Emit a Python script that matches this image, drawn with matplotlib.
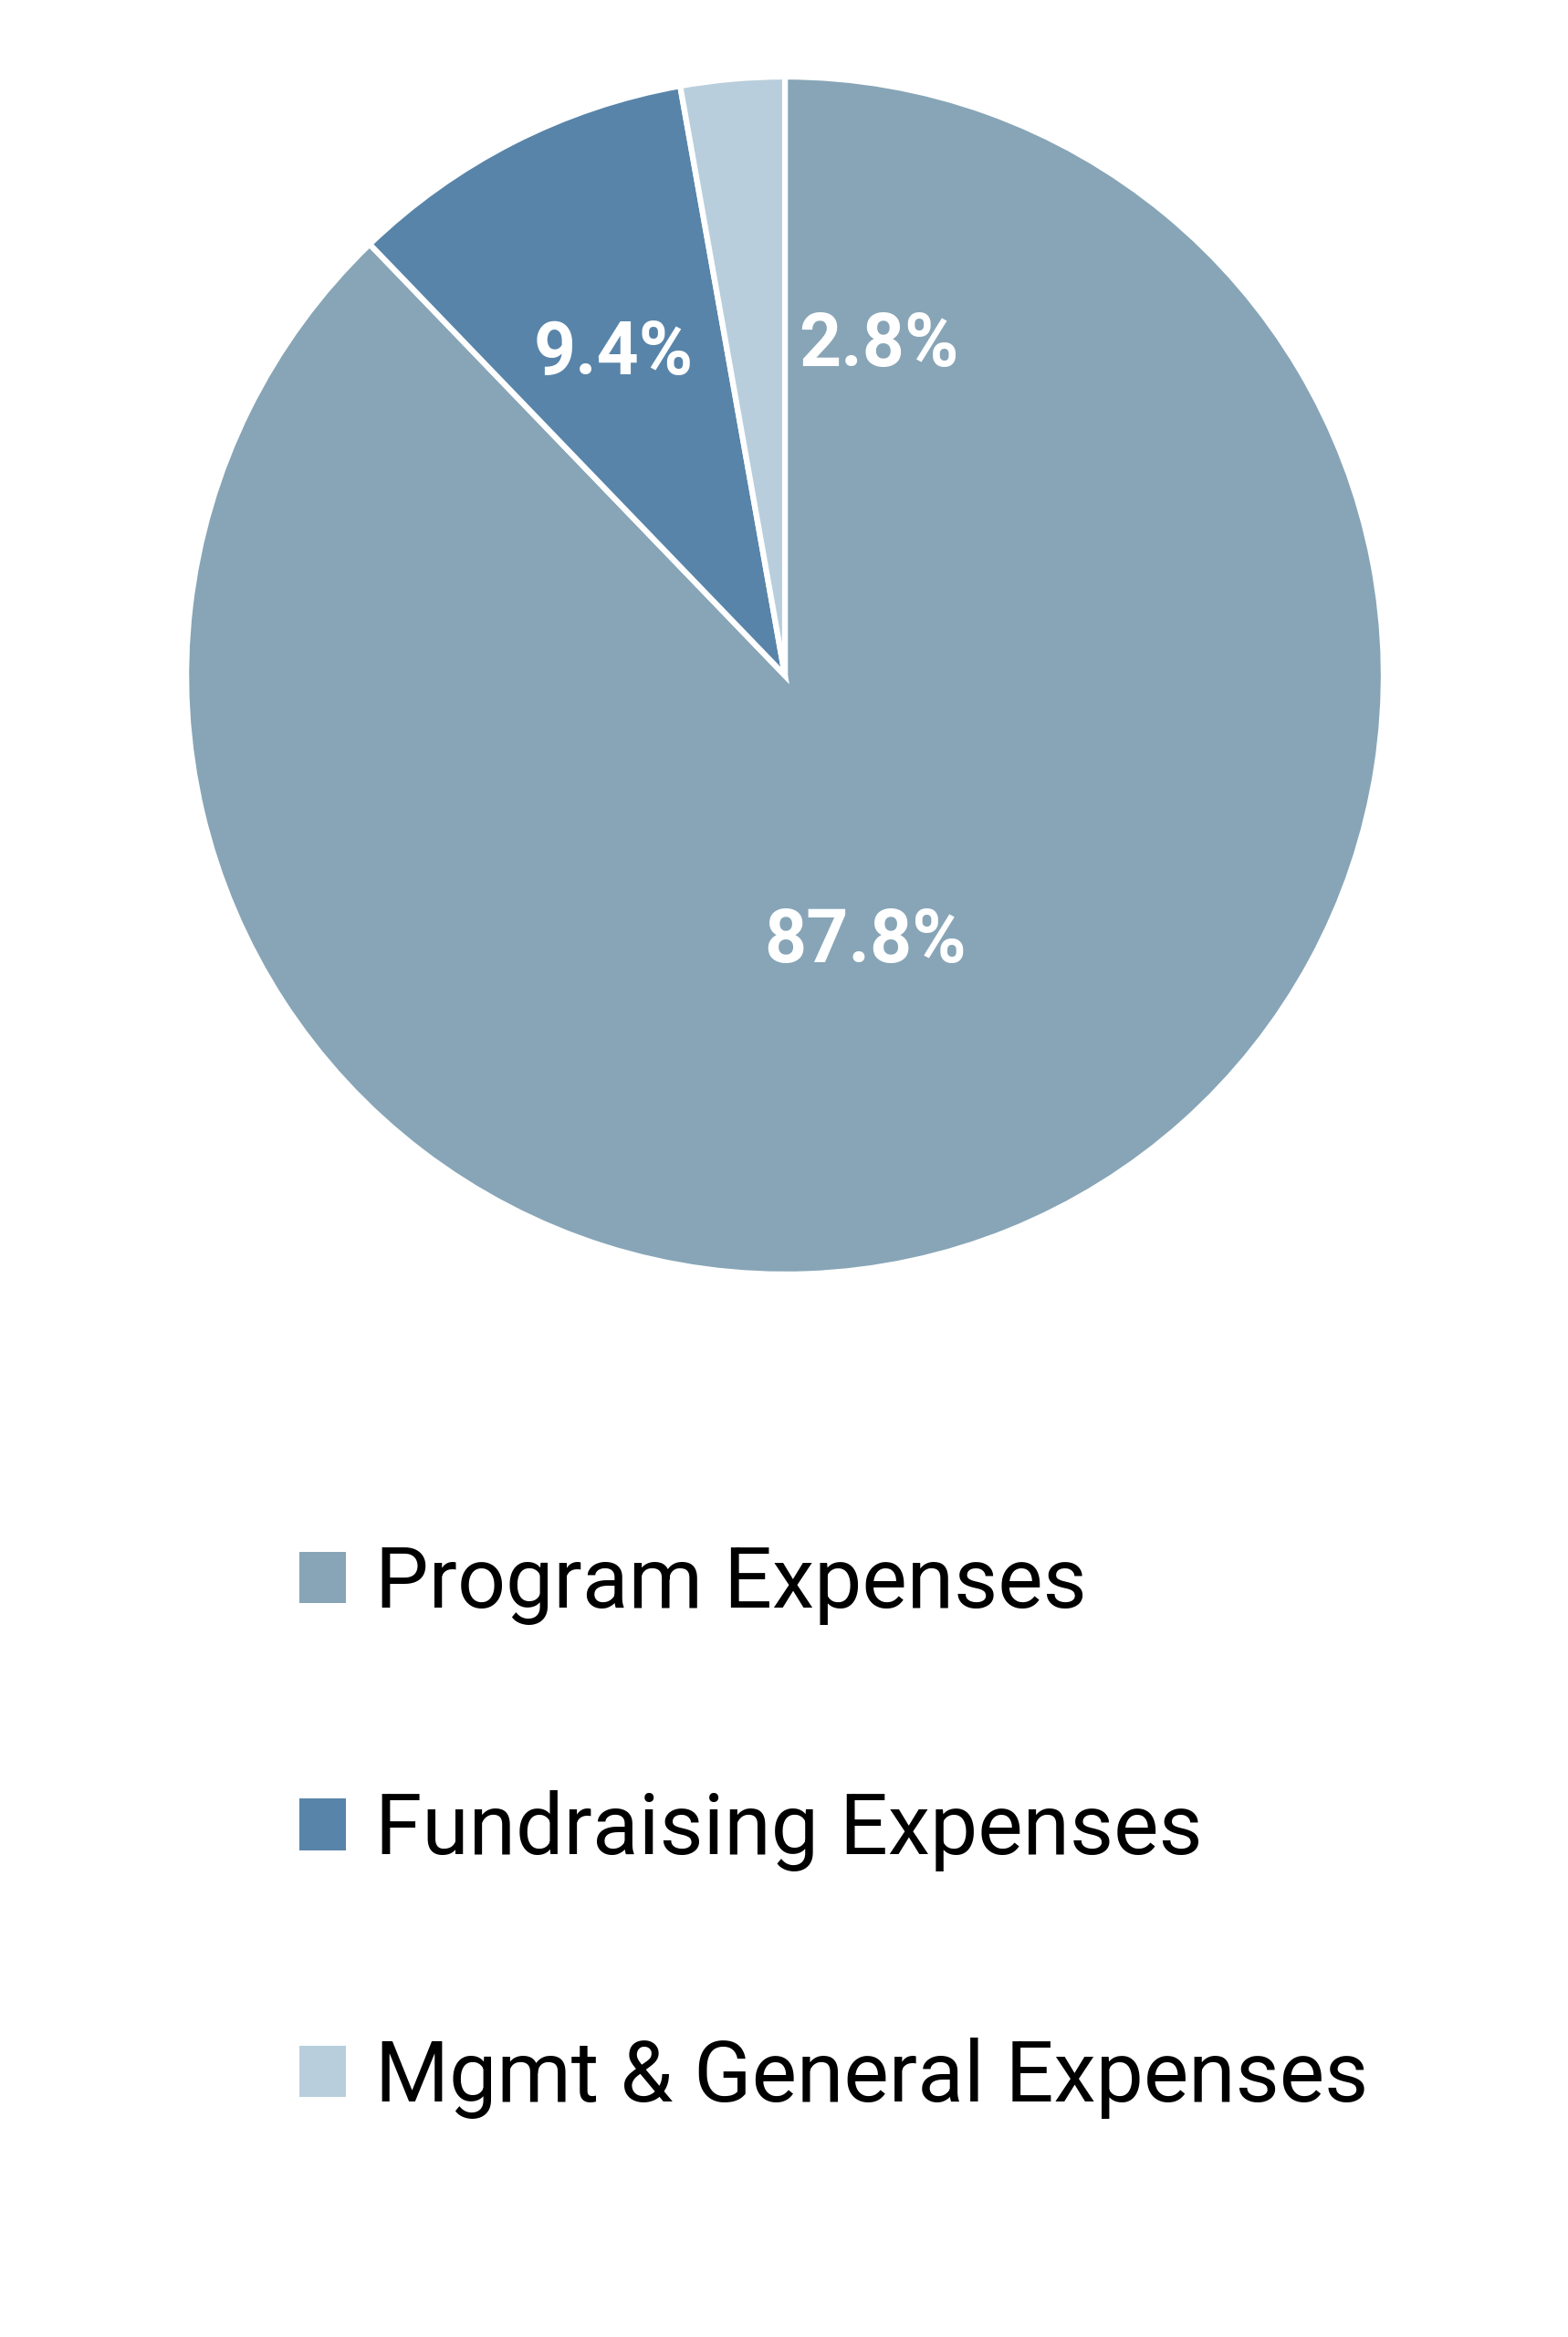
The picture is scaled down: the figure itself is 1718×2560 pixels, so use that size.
import matplotlib
matplotlib.use("Agg")
import matplotlib.pyplot as plt

categories = ["Program Expenses", "Fundraising Expenses", "Mgmt & General Expenses"]
shares = [87.8, 9.4, 2.8]
colors = ["#87A5B7", "#5884A9", "#B8CEDC"]
pct_labels = ["87.8%", "9.4%", "2.8%"]
# where the percentage labels sit, in pie-radius units
label_xy = [(0.134, -0.445), (-0.286, 0.537), (0.157, 0.550)]

fig = plt.figure(figsize=(17.18, 25.6), dpi=100)
fig.patch.set_facecolor("white")

ax = fig.add_axes([0.1188, 0.4547, 0.7636, 0.5125])
wedges, _ = ax.pie(shares, colors=colors, startangle=90, counterclock=False,
                   radius=1, wedgeprops=dict(edgecolor="white", linewidth=4.5))
ax.set_xlim(-1.0, 1.0)
ax.set_ylim(-1.0, 1.0)
ax.set_aspect("equal")
ax.axis("off")

for txt, (x, y) in zip(pct_labels, label_xy):
    ax.text(x, y, txt, ha="center", va="center", color="white",
            fontsize=58, fontweight="bold", family=["Roboto", "DejaVu Sans"])

leg = fig.legend(wedges, categories, loc="upper left",
                 bbox_to_anchor=(0.191, 0.3395), frameon=False,
                 prop=dict(family=["Roboto", "DejaVu Sans"], size=67),
                 handlelength=0.55, handleheight=0.56, handletextpad=0.34,
                 labelspacing=1.95, borderpad=0, borderaxespad=0)
for h in leg.legend_handles:
    h.set_linewidth(0)

fig.savefig("out.png", dpi=100, facecolor="white")
